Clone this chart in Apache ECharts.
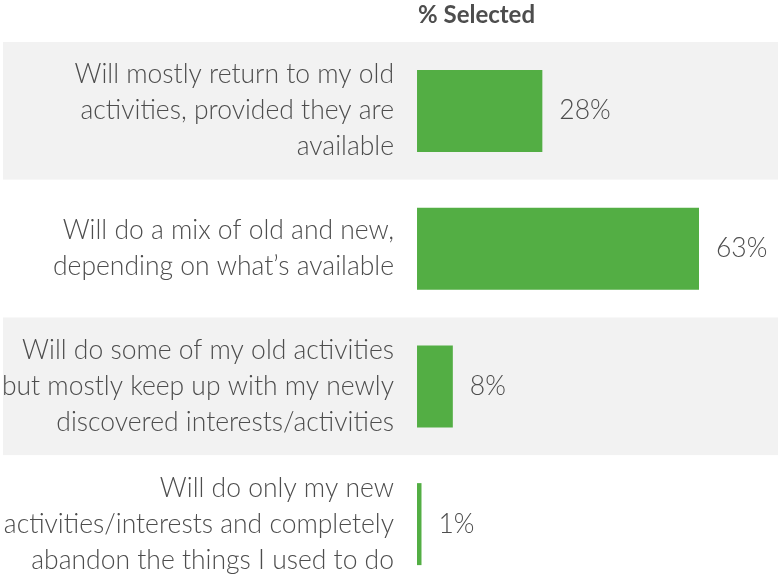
<!DOCTYPE html>
<html>
<head>
<meta charset="utf-8">
<script src="https://cdn.jsdelivr.net/npm/echarts@6/dist/echarts.min.js"></script>
<style>
  html, body { margin: 0; padding: 0; background: #fff; }
  #chart { width: 778px; height: 581px; }
</style>
</head>
<body>
<div id="chart"></div>
<script>
  // answers, top to bottom
  const answers = [
    'Will mostly return to my old\nactivities, provided they are\navailable',
    'Will do a mix of old and new,\ndepending on what\u2019s available',
    'Will do some of my old activities\nbut mostly keep up with my newly\ndiscovered interests/activities',
    'Will do only my new\nactivities/interests and completely\nabandon the things I used to do'
  ];
  const selected = [28, 63, 8, 1];

  const myChart = echarts.init(document.getElementById('chart'));
  myChart.setOption({
    animation: false,
    title: {
      text: '% Selected',
      left: 413,
      top: -2,
      textStyle: { fontFamily: 'Lato', fontWeight: 'bold', fontSize: 24, color: '#4d4d4d' }
    },
    grid: { left: 3, right: 0, top: 42, height: 551, containLabel: false, outerBoundsMode: 'none' },
    xAxis: {
      type: 'value',
      min: -92.5,   // keeps zero at the bar start, labels sit in the band to the left
      max: 80.65,
      show: false
    },
    yAxis: {
      type: 'category',
      inverse: true,
      data: answers,
      offset: -414, // move the axis (and its labels) to the zero line
      axisLine: { show: false },
      axisTick: { show: false },
      splitArea: { show: true, areaStyle: { color: ['#f2f2f2', '#ffffff'] } },
      axisLabel: {
        interval: 0,
        margin: 23,
        align: 'right',
        fontFamily: 'Lato',
        fontWeight: 300,
        fontSize: 26.5,
        lineHeight: 36,
        color: '#4d4d4d'
      }
    },
    series: [{
      type: 'bar',
      data: selected,
      barWidth: 82,
      itemStyle: { color: '#53ae44' },
      label: {
        show: true,
        position: 'right',
        distance: 17,
        formatter: '{c}%',
        fontFamily: 'Lato',
        fontWeight: 300,
        fontSize: 26.5,
        color: '#4d4d4d'
      }
    }]
  });
</script>
</body>
</html>
